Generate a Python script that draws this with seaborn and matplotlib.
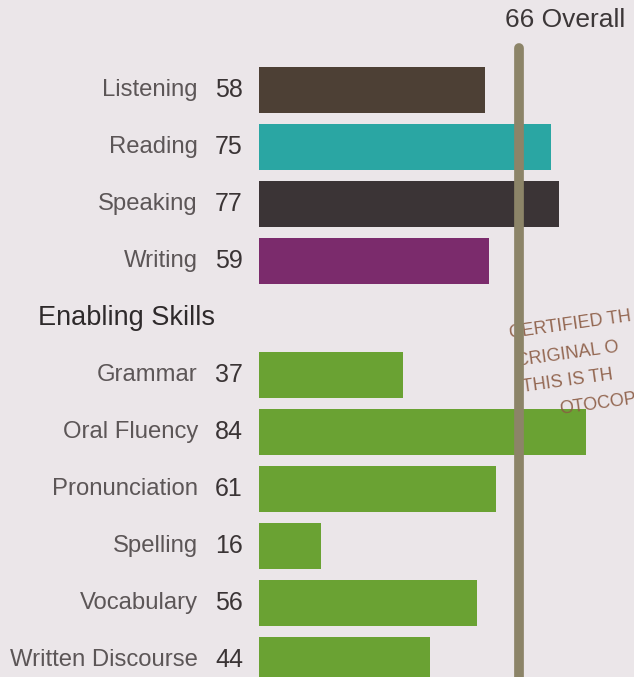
import matplotlib
matplotlib.use("Agg")
import matplotlib.pyplot as plt
import seaborn as sns
import pandas as pd

# ---- data ----
comm_skills = ["Listening", "Reading", "Speaking", "Writing"]
comm_scores = [58, 75, 77, 59]
comm_colors = ["#4d4035", "#2aa6a3", "#3b3436", "#7b2b6c"]

enab_skills = ["Grammar", "Oral Fluency", "Pronunciation", "Spelling", "Vocabulary", "Written Discourse"]
enab_scores = [37, 84, 61, 16, 56, 44]
enab_color = "#6aa233"

overall_score = 66
header_text = "Enabling Skills"
stamp_lines = ["CERTIFIED TH", "CRIGINAL O", "THIS IS TH", "OTOCOPY"]
# stamp anchor positions (pixels from top-left of image)
stamp_pos_px = [(510, 338), (517, 366), (523, 392), (560, 414)]

BG = "#ebe6e9"

sns.set_theme(style="white")
plt.rcParams["font.family"] = ["Liberation Sans", "DejaVu Sans"]

gap_name = " "
order = comm_skills + [gap_name] + enab_skills
df = pd.DataFrame({
    "skill": comm_skills + enab_skills,
    "score": comm_scores + enab_scores,
})
palette = dict(zip(comm_skills, comm_colors))
palette.update({s: enab_color for s in enab_skills})
palette[gap_name] = BG

fig = plt.figure(figsize=(6.34, 6.77), dpi=100, facecolor=BG)
ax = fig.add_axes([0, 0, 1, 1])
ax.set_facecolor(BG)

sns.barplot(data=df, x="score", y="skill", hue="skill", order=order,
            hue_order=order, palette=palette, legend=False, width=0.81,
            orient="h", ax=ax, saturation=1, linewidth=0)

px_per_unit = 3.89
x0_px = 259
row_px = 57.0
row0_px = 90.0
W, H = 634, 677
ax.set_xlim(-x0_px / px_per_unit, (W - x0_px) / px_per_unit)
ax.set_ylim((H - row0_px) / row_px, -row0_px / row_px)
ax.axis("off")

def px2data(px, py):
    return (px - x0_px) / px_per_unit, (py - row0_px) / row_px

label_x = (198 - x0_px) / px_per_unit
num_x = (243 - x0_px) / px_per_unit
for i, name in enumerate(order):
    if name == gap_name:
        ax.text((38 - x0_px) / px_per_unit, i, header_text, ha="left", va="center",
                fontsize=19.5, color="#2e2a2b")
        continue
    val = df.loc[df.skill == name, "score"].iloc[0]
    ax.text(label_x, i, name, ha="right", va="center", fontsize=17.2, color="#5c5657")
    ax.text(num_x, i, str(val), ha="right", va="center", fontsize=18, color="#3a3435")

# overall line
ax.axvline(overall_score + 0.8, ymin=0, ymax=1 - 48 / H, color="#8c8468", lw=7, zorder=5)
tx, ty = px2data(505, 20)
ax.text(tx, ty, f"{overall_score} Overall", ha="left", va="center",
        fontsize=19, color="#3c3738")

# stamp text
for line, (px, py) in zip(stamp_lines, stamp_pos_px):
    sx, sy = px2data(px, py)
    ax.text(sx, sy, line, ha="left", va="baseline", rotation=8, rotation_mode="anchor",
            fontsize=13, color="#8a5a42", alpha=0.9, zorder=4)

fig.savefig("out.png", dpi=100, facecolor=BG)
